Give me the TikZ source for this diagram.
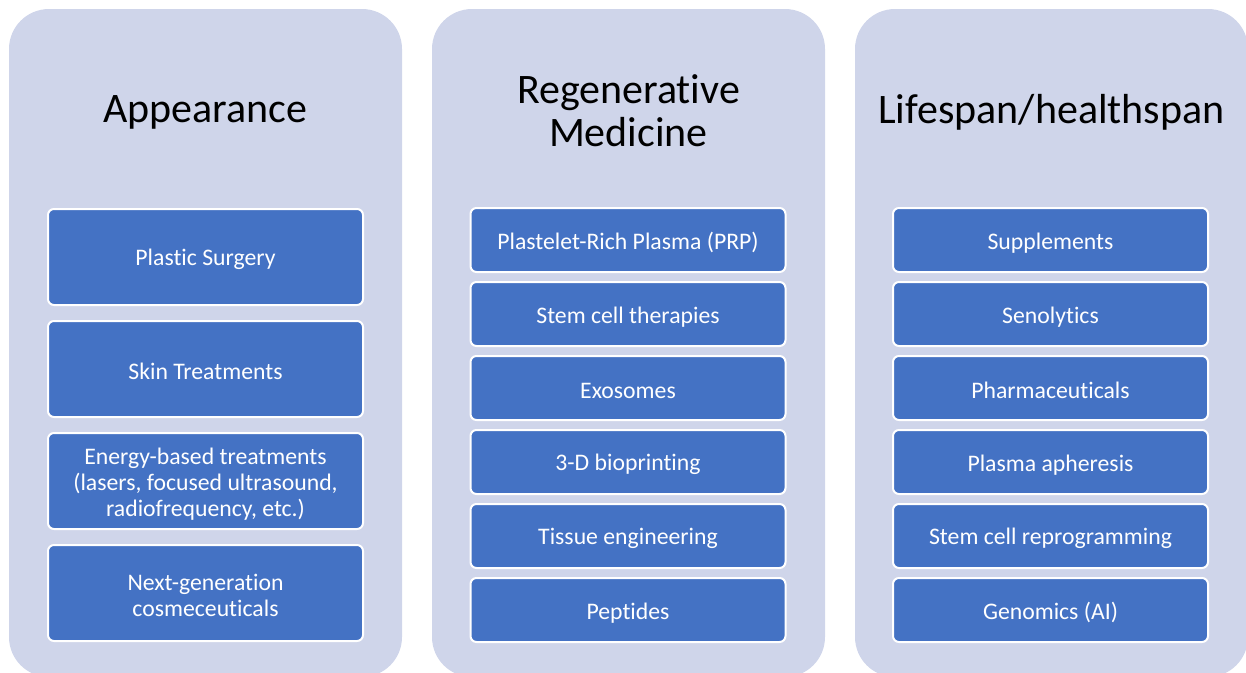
\documentclass[tikz,border=0pt]{standalone}
\usepackage{fontspec}
\setmainfont{Carlito}[Ligatures={NoCommon,NoContextual}]
\usetikzlibrary{shapes,positioning}

\definecolor{panelfill}{HTML}{CFD5EA}
\definecolor{itemfill}{HTML}{4472C4}
\newcommand{\lift}{\rule{0pt}{16.5pt}}

\begin{document}
\begin{tikzpicture}[x=0.75pt,y=-0.75pt,
  panel/.style={fill=panelfill, rounded corners=30pt, minimum width=294.75pt, minimum height=501pt, inner sep=0pt},
  heading/.style={align=center, font=\fontsize{31.5}{32}\selectfont},
  item/.style={fill=itemfill, draw=white, line width=1.5pt, rounded corners=4.5pt, text=white, align=center, minimum width=236.25pt, inner sep=0pt, font=\fontsize{17.8}{19.5}\selectfont},
  tall/.style={item, minimum height=72pt},
  short/.style={item, minimum height=48pt}]
\useasboundingbox (0,0) rectangle (1246,672);

\node[panel] (appearance) at (205.5,343) {};
\node[panel] (regen) at (628.5,343) {};
\node[panel] (lifespan) at (1051.5,343) {};

\node[heading] (appearanceT) at (205.5,112) {Appearance};
\node[heading] (regenT) at (628.5,111) {Regenerative\\Medicine};
\node[heading] (lifespanT) at (1051.5,112) {Lifespan/healthspan};

\node[tall] (plastic) at (205.5,257) {\lift Plastic Surgery};
\node[tall] (skin) at (205.5,369) {\lift Skin Treatments};
\node[tall] (energy) at (205.5,481) {\lift Energy-based treatments\\(lasers, focused ultrasound,\\radiofrequency, etc.)};
\node[tall] (nextgen) at (205.5,593) {\lift Next-generation\\cosmeceuticals};

\node[short] (prp) at (628,240) {\lift Plastelet-Rich Plasma (PRP)};
\node[short] (stem) at (628,314) {\lift Stem cell therapies};
\node[short] (exo) at (628,388) {\lift Exosomes};
\node[short] (bioprint) at (628,462) {\lift 3-D bioprinting};
\node[short] (tissue) at (628,536) {\lift Tissue engineering};
\node[short] (peptides) at (628,610) {\lift Peptides};

\node[short] (supp) at (1050.5,240) {\lift Supplements};
\node[short] (seno) at (1050.5,314) {\lift Senolytics};
\node[short] (pharma) at (1050.5,388) {\lift Pharmaceuticals};
\node[short] (apher) at (1050.5,462) {\lift Plasma apheresis};
\node[short] (reprog) at (1050.5,536) {\lift Stem cell reprogramming};
\node[short] (genom) at (1050.5,610) {\lift Genomics (AI)};

\end{tikzpicture}
\end{document}
